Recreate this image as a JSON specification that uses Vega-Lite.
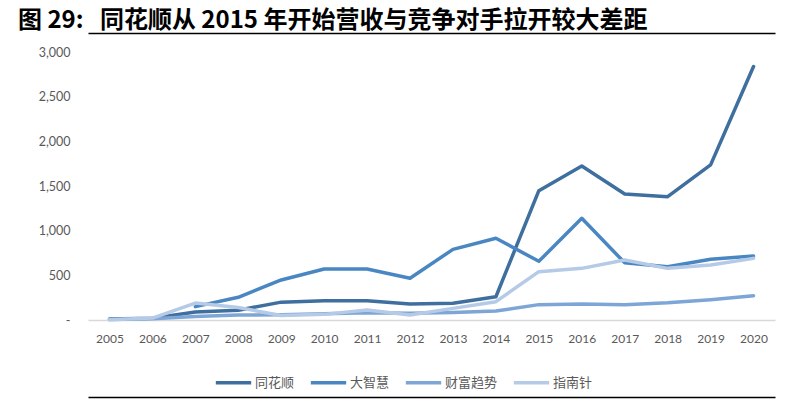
{
  "$schema": "https://vega.github.io/schema/vega-lite/v6.json",
  "width": 687,
  "height": 268,
  "autosize": {"type": "none"},
  "padding": {"left": 88, "top": 52, "right": 25, "bottom": 82},
  "background": "white",
  "title": {
    "text": "图\u00a029:\u00a0\u00a0\u00a0同花顺从\u00a02015\u00a0年开始营收与竞争对手拉开较大差距",
    "anchor": "start",
    "frame": "group",
    "dx": -70,
    "offset": 0,
    "font": "Noto Sans CJK SC",
    "fontSize": 24,
    "fontWeight": "bold",
    "color": "#000000"
  },
  "data": {
    "values": [
      {"year": "2005", "company": "同花顺", "revenue": 10},
      {"year": "2006", "company": "同花顺", "revenue": 20},
      {"year": "2007", "company": "同花顺", "revenue": 90},
      {"year": "2008", "company": "同花顺", "revenue": 110},
      {"year": "2009", "company": "同花顺", "revenue": 200},
      {"year": "2010", "company": "同花顺", "revenue": 215},
      {"year": "2011", "company": "同花顺", "revenue": 215},
      {"year": "2012", "company": "同花顺", "revenue": 180},
      {"year": "2013", "company": "同花顺", "revenue": 187},
      {"year": "2014", "company": "同花顺", "revenue": 260},
      {"year": "2015", "company": "同花顺", "revenue": 1448},
      {"year": "2016", "company": "同花顺", "revenue": 1724},
      {"year": "2017", "company": "同花顺", "revenue": 1411},
      {"year": "2018", "company": "同花顺", "revenue": 1381},
      {"year": "2019", "company": "同花顺", "revenue": 1736},
      {"year": "2020", "company": "同花顺", "revenue": 2837},
      {"year": "2007", "company": "大智慧", "revenue": 150},
      {"year": "2008", "company": "大智慧", "revenue": 254},
      {"year": "2009", "company": "大智慧", "revenue": 448},
      {"year": "2010", "company": "大智慧", "revenue": 571},
      {"year": "2011", "company": "大智慧", "revenue": 571},
      {"year": "2012", "company": "大智慧", "revenue": 467},
      {"year": "2013", "company": "大智慧", "revenue": 791},
      {"year": "2014", "company": "大智慧", "revenue": 915},
      {"year": "2015", "company": "大智慧", "revenue": 657},
      {"year": "2016", "company": "大智慧", "revenue": 1138},
      {"year": "2017", "company": "大智慧", "revenue": 640},
      {"year": "2018", "company": "大智慧", "revenue": 597},
      {"year": "2019", "company": "大智慧", "revenue": 680},
      {"year": "2020", "company": "大智慧", "revenue": 716},
      {"year": "2005", "company": "财富趋势", "revenue": 5},
      {"year": "2006", "company": "财富趋势", "revenue": 15},
      {"year": "2007", "company": "财富趋势", "revenue": 40},
      {"year": "2008", "company": "财富趋势", "revenue": 55},
      {"year": "2009", "company": "财富趋势", "revenue": 60},
      {"year": "2010", "company": "财富趋势", "revenue": 70},
      {"year": "2011", "company": "财富趋势", "revenue": 80},
      {"year": "2012", "company": "财富趋势", "revenue": 75},
      {"year": "2013", "company": "财富趋势", "revenue": 85},
      {"year": "2014", "company": "财富趋势", "revenue": 100},
      {"year": "2015", "company": "财富趋势", "revenue": 172},
      {"year": "2016", "company": "财富趋势", "revenue": 180},
      {"year": "2017", "company": "财富趋势", "revenue": 172},
      {"year": "2018", "company": "财富趋势", "revenue": 192},
      {"year": "2019", "company": "财富趋势", "revenue": 228},
      {"year": "2020", "company": "财富趋势", "revenue": 272},
      {"year": "2005", "company": "指南针", "revenue": 2},
      {"year": "2006", "company": "指南针", "revenue": 22},
      {"year": "2007", "company": "指南针", "revenue": 190},
      {"year": "2008", "company": "指南针", "revenue": 140},
      {"year": "2009", "company": "指南针", "revenue": 50},
      {"year": "2010", "company": "指南针", "revenue": 63},
      {"year": "2011", "company": "指南针", "revenue": 112},
      {"year": "2012", "company": "指南针", "revenue": 56},
      {"year": "2013", "company": "指南针", "revenue": 130},
      {"year": "2014", "company": "指南针", "revenue": 205},
      {"year": "2015", "company": "指南针", "revenue": 541},
      {"year": "2016", "company": "指南针", "revenue": 578},
      {"year": "2017", "company": "指南针", "revenue": 672},
      {"year": "2018", "company": "指南针", "revenue": 578},
      {"year": "2019", "company": "指南针", "revenue": 616},
      {"year": "2020", "company": "指南针", "revenue": 690}
    ]
  },
  "layer": [
    {
      "mark": {"type": "line", "strokeWidth": 3.5, "strokeCap": "round", "strokeJoin": "round"},
      "encoding": {
        "x": {
          "field": "year", "type": "ordinal",
          "scale": {"type": "point", "padding": 0.5},
          "axis": {
            "title": null, "labelAngle": 0, "ticks": false,
            "domainColor": "#D9D9D9", "domainWidth": 1.5,
            "labelFont": "Lato", "labelFontSize": 12, "labelColor": "#595959",
            "labelPadding": 13
          }
        },
        "y": {
          "field": "revenue", "type": "quantitative",
          "scale": {"domain": [0, 3000]},
          "axis": {
            "title": null, "grid": false, "domain": false, "ticks": false,
            "values": [0, 500, 1000, 1500, 2000, 2500, 3000],
            "labelExpr": "datum.value == 0 ? '-' : format(datum.value, ',')",
            "labelFont": "Lato", "labelFontSize": 12.5, "labelColor": "#595959",
            "labelPadding": 18
          }
        },
        "color": {
          "field": "company", "type": "nominal",
          "scale": {
            "domain": ["同花顺", "大智慧", "财富趋势", "指南针"],
            "range": ["#3F6F9E", "#4A87C2", "#7DA6D7", "#B5CAE6"]
          },
          "legend": {
            "title": null, "orient": "none", "direction": "horizontal",
            "legendX": 126, "legendY": 311,
            "symbolType": "stroke", "symbolSize": 1250, "symbolStrokeWidth": 3.5,
            "labelFont": "Noto Sans CJK SC", "labelFontSize": 13, "labelColor": "#595959",
            "columnPadding": 8, "labelOffset": 2
          }
        }
      }
    },
    {
      "mark": {"type": "point", "opacity": 0},
      "encoding": {
        "x": {
          "field": "year", "type": "ordinal",
          "axis": {"orient": "top", "offset": 19, "title": null, "labels": false, "ticks": false, "domainColor": "#000000", "domainWidth": 1.5}
        },
        "y": {"field": "revenue", "type": "quantitative"}
      }
    },
    {
      "mark": {"type": "point", "opacity": 0},
      "encoding": {
        "x": {
          "field": "year", "type": "ordinal",
          "axis": {"orient": "bottom", "offset": 77, "title": null, "labels": false, "ticks": false, "domainColor": "#000000", "domainWidth": 1.5}
        },
        "y": {"field": "revenue", "type": "quantitative"}
      }
    }
  ],
  "resolve": {"axis": {"x": "independent"}},
  "config": {"view": {"stroke": null}}
}
